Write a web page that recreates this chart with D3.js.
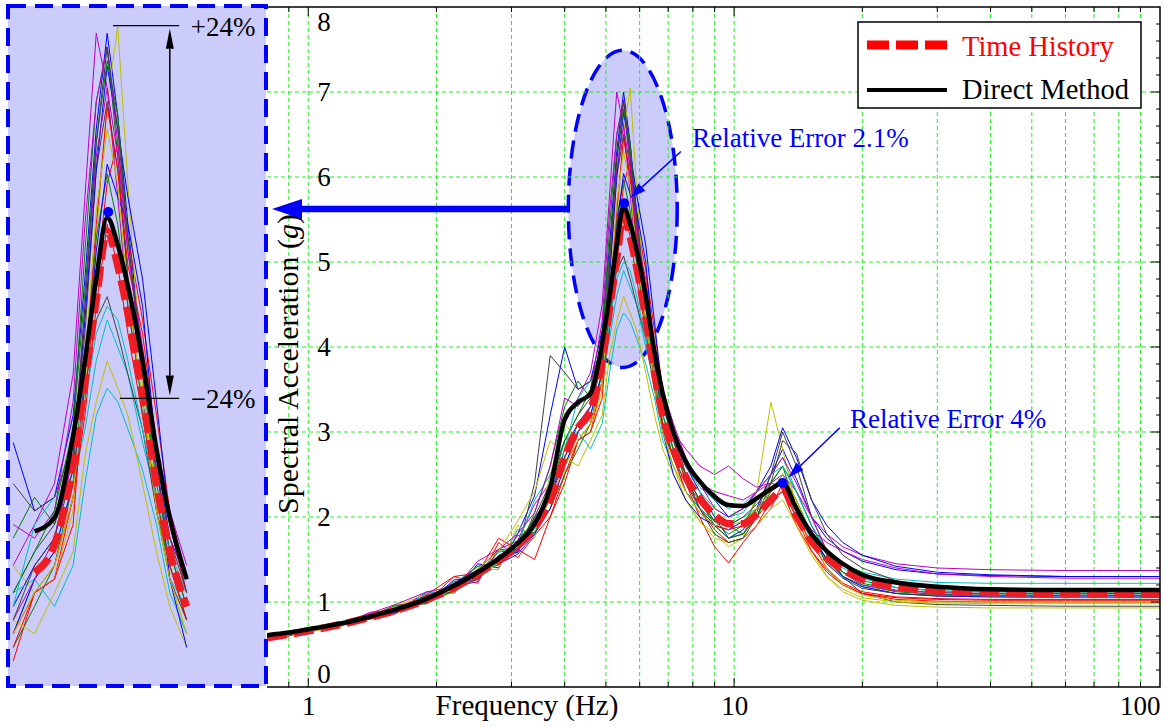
<!DOCTYPE html>
<html>
<head>
<meta charset="utf-8">
<script src="https://cdn.jsdelivr.net/npm/d3@7"></script>
<style>
  body { margin: 0; background: #fff; }
  text { font-family: "Liberation Serif", "Times New Roman", serif; }
</style>
</head>
<body>
<svg id="chart" width="1171" height="727"></svg>
<script>
// frequency grid (Hz) shared by every curve
const freqs = [0.8, 0.9, 1.0, 1.2, 1.4, 1.6, 1.9, 2.2, 2.5, 2.8, 3.1, 3.4,
  3.7, 4.0, 4.3, 4.6, 4.9, 5.1, 5.3, 5.5, 5.7, 5.9,
  6.2, 6.5, 6.8, 7.2, 7.7, 8.3, 9.0, 9.7, 10.5, 11.3,
  12.2, 13.0, 14.0, 15.2, 16.5, 18, 20, 24, 30, 40, 60, 100];

// Direct Method (black)
const directMethod = [0.61, 0.64, 0.68, 0.75, 0.83, 0.91, 1.04, 1.19, 1.35, 1.51, 1.69, 1.92,
  2.35, 3.15, 3.35, 3.45, 4.05, 4.6, 5.2, 5.65, 5.45, 5.15,
  4.6, 3.95, 3.45, 3.0, 2.65, 2.42, 2.24, 2.14, 2.13, 2.22,
  2.33, 2.40, 2.1, 1.8, 1.6, 1.45, 1.32, 1.23, 1.18, 1.15, 1.14, 1.14];

// Time History mean (red dashed)
const timeHistory = [0.58, 0.62, 0.66, 0.74, 0.82, 0.90, 1.03, 1.17, 1.33, 1.49, 1.66, 1.88,
  2.2, 2.7, 3.05, 3.25, 3.85, 4.45, 5.05, 5.55, 5.3, 4.95,
  4.35, 3.7, 3.2, 2.8, 2.47, 2.22, 2.02, 1.92, 1.92, 2.03,
  2.2, 2.32, 2.02, 1.72, 1.52, 1.38, 1.27, 1.18, 1.13, 1.11, 1.10, 1.09];

// individual records (thin lines), colours cycle b g r c m y k
const recordColors = ["#0000ff", "#008000", "#ff0000", "#00bfbf", "#bf00bf", "#bfbf00", "#404040"];
const records = [
  [0.59,0.61,0.68,0.73,0.85,0.88,1.12,1.10,1.45,1.40,1.80,2.25, 3.2,4.0,3.5,3.6,4.2, 5.2,6.3,7.0,6.4,5.6, 4.6,3.9,3.3,3.0,2.6,2.3, 2.0,1.75,1.85,2.1, 2.5,2.8,2.45,2.0, 1.75,1.6,1.48,1.38,1.33,1.31,1.30,1.30],
  [0.57,0.63,0.65,0.76,0.80,0.95,0.98,1.24,1.26,1.60,1.58,2.05, 2.6,3.3,3.6,3.4,4.1, 5.4,6.5,6.9,6.1,5.2, 4.2,3.6,3.1,2.7,2.4,2.2, 1.95,1.8,1.9,2.2, 2.4,2.6,2.1,1.75, 1.5,1.35,1.25,1.17,1.13,1.12,1.12,1.12],
  [0.58,0.60,0.67,0.72,0.86,0.87,1.09,1.30,1.22,1.70,1.52,1.78, 2.0,2.4,2.9,3.0,3.6, 4.3,5.2,5.9,6.2,5.5, 4.9,4.2,3.5,3.0,2.5,2.1, 1.85,1.7,1.75,1.9, 2.1,2.4,2.0,1.6, 1.38,1.2,1.1,1.03,1.01,1.0,1.0,1.0],
  [0.59,0.62,0.66,0.77,0.81,0.95,1.00,1.22,1.42,1.43,1.85,1.80, 2.3,2.6,3.0,3.2,3.7, 4.1,4.6,4.9,4.7,4.5, 4.0,3.6,3.0,2.8,2.5,2.3, 2.1,2.0,2.05,2.3, 2.5,2.7,2.3,1.9, 1.6,1.45,1.35,1.27,1.23,1.22,1.22,1.22],
  [0.58,0.63,0.66,0.74,0.88,0.90,1.08,1.15,1.48,1.62,1.72,2.15, 2.4,3.1,3.4,3.7,4.5, 5.8,7.0,6.6,5.8,5.0, 4.3,3.8,3.3,3.0,2.8,2.6, 2.5,2.6,2.45,2.35, 2.4,2.5,2.3,2.0, 1.8,1.65,1.55,1.45,1.4,1.38,1.37,1.37],
  [0.57,0.61,0.64,0.73,0.80,0.95,1.10,1.10,1.40,1.38,1.90,1.75, 2.5,3.1,2.9,3.0,3.5, 4.4,5.5,6.5,7.05,5.9, 4.4,3.6,3.0,2.6,2.2,1.95, 1.8,1.65,1.75,2.3, 3.35,2.8,2.1,1.6, 1.3,1.12,1.02,0.96,0.94,0.93,0.93,0.93],
  [0.58,0.62,0.67,0.76,0.80,0.86,1.08,1.12,1.38,1.62,1.60,2.4, 3.9,3.7,3.5,3.6,4.0, 4.8,6.0,6.5,6.0,5.2, 4.5,3.8,3.2,2.8,2.45,2.1, 1.9,1.75,1.8,2.05, 2.5,3.0,2.6,2.0, 1.6,1.3,1.1,1.0,0.97,0.96,0.95,0.95],
  [0.58,0.61,0.66,0.76,0.81,0.93,0.99,1.26,1.28,1.55,1.58,2.0, 2.2,2.8,3.1,3.3,3.9, 4.9,6.0,6.76,6.3,5.8, 5.2,4.3,3.4,2.9,2.6,2.4, 2.2,2.0,2.1,2.3, 2.6,3.05,2.7,2.2, 1.9,1.7,1.55,1.42,1.35,1.32,1.30,1.30],
  [0.59,0.62,0.65,0.73,0.84,0.96,1.00,1.20,1.42,1.46,1.78,1.82, 2.1,2.5,2.8,3.1,3.7, 4.6,5.5,5.97,5.6,5.0, 4.3,3.5,3.1,2.7,2.3,2.1, 1.95,1.9,1.8,2.0, 2.3,2.5,2.2,1.8, 1.5,1.3,1.2,1.12,1.09,1.08,1.08,1.08],
  [0.57,0.63,0.66,0.74,0.84,0.87,1.00,1.30,1.34,1.75,1.62,1.50, 2.0,2.5,2.9,3.0,3.4, 4.5,5.6,6.46,6.0,5.3, 4.8,4.0,3.4,2.9,2.4,2.0, 1.65,1.46,1.7,1.9, 2.2,2.3,1.9,1.6, 1.35,1.2,1.1,1.05,1.03,1.02,1.02,1.02],
  [0.58,0.62,0.68,0.75,0.84,0.88,1.10,1.14,1.36,1.58,1.68,2.2, 2.5,2.9,3.0,2.8,3.1, 3.7,4.2,4.4,4.3,4.1, 3.8,3.4,2.9,2.6,2.3,2.1, 1.95,1.9,2.0,2.1, 2.2,2.3,2.0,1.75, 1.45,1.3,1.18,1.1,1.07,1.06,1.05,1.05],
  [0.58,0.60,0.67,0.74,0.87,0.97,1.12,1.18,1.24,1.62,1.80,2.05, 2.6,3.4,3.3,3.5,4.3, 5.6,6.5,6.9,6.2,5.4, 4.7,4.0,3.5,3.1,2.7,2.4, 2.3,2.25,2.2,2.3, 2.4,2.35,2.1,1.85, 1.7,1.6,1.5,1.4,1.33,1.3,1.28,1.28],
  [0.57,0.62,0.65,0.72,0.80,0.93,1.00,1.12,1.39,1.60,1.95,2.3, 2.9,2.7,2.6,2.9,3.2, 3.9,4.3,4.6,4.4,4.2, 3.7,3.2,2.8,2.5,2.2,1.95, 1.75,1.7,1.75,1.9, 2.1,2.2,1.9,1.55, 1.3,1.15,1.05,1.0,0.99,0.98,0.98,0.98],
  [0.59,0.61,0.66,0.75,0.83,0.89,1.07,1.15,1.27,1.55,1.63,2.0, 2.4,2.9,3.2,3.4,3.8, 4.4,4.9,5.07,4.8,4.5, 4.1,3.5,3.0,2.7,2.4,2.1, 1.8,1.7,1.75,2.0, 2.4,2.9,2.75,2.2, 1.8,1.55,1.4,1.25,1.18,1.16,1.15,1.15],
  [0.58,0.62,0.67,0.73,0.84,0.88,1.05,1.22,1.38,1.45,1.56,1.80, 2.1,2.6,3.0,3.2,3.7, 4.5,5.4,6.04,5.8,5.6, 5.0,3.9,3.0,2.5,2.2,2.0, 1.9,1.85,1.95,2.1, 2.3,2.4,2.1,1.8, 1.5,1.3,1.18,1.1,1.07,1.06,1.06,1.06],
  [0.58,0.63,0.66,0.75,0.82,0.92,1.00,1.13,1.36,1.44,1.72,1.96, 2.3,2.9,3.2,3.5,4.1, 5.1,6.2,6.8,6.4,5.5, 4.5,3.7,3.2,2.8,2.5,2.2, 1.9,1.75,1.8,2.0, 2.4,2.6,2.3,1.9, 1.55,1.35,1.22,1.14,1.11,1.10,1.10,1.10],
  [0.58,0.61,0.66,0.73,0.80,0.93,1.06,1.21,1.30,1.52,1.61,1.90, 2.2,2.6,2.9,3.1,3.6, 4.2,5.0,5.6,5.3,4.8, 4.2,3.6,3.1,2.7,2.3,2.05, 1.9,1.85,1.9,2.0, 2.2,2.3,2.0,1.7, 1.4,1.22,1.12,1.06,1.04,1.03,1.03,1.03],
  [0.58,0.62,0.67,0.74,0.83,0.89,1.05,1.16,1.35,1.47,1.72,1.86, 2.3,2.8,3.4,3.6,3.7, 4.3,4.8,5.0,4.9,4.6, 4.1,3.6,3.2,2.9,2.6,2.35, 2.2,2.1,2.15,2.3, 2.5,2.6,2.3,1.9, 1.6,1.4,1.28,1.17,1.13,1.12,1.12,1.12],
  [0.58,0.62,0.65,0.75,0.84,0.90,1.01,1.17,1.29,1.53,1.60,1.92, 2.2,2.7,3.0,3.3,3.9, 5.0,6.1,6.6,6.1,5.4, 4.6,3.9,3.4,3.0,2.7,2.4, 2.1,2.0,2.1,2.3, 2.5,2.7,2.4,2.0, 1.6,1.35,1.2,1.13,1.11,1.10,1.10,1.10],
  [0.58,0.61,0.66,0.74,0.81,0.91,1.06,1.14,1.36,1.45,1.70,1.85, 2.2,2.6,2.9,3.1,3.6, 4.6,5.7,6.3,5.9,5.1, 4.3,3.5,3.0,2.6,2.3,2.05, 1.9,1.9,1.95,2.1, 2.3,2.5,2.2,1.75, 1.4,1.2,1.08,1.02,1.0,1.0,1.0,1.0],
  [0.58,0.62,0.66,0.74,0.83,0.89,1.04,1.19,1.31,1.51,1.63,1.93, 2.3,2.7,3.1,3.3,3.8, 5.0,6.2,6.9,6.3,5.5, 4.6,3.8,3.3,2.9,2.5,2.2, 1.95,1.9,2.0,2.15, 2.35,2.4,2.15,1.8, 1.45,1.28,1.16,1.1,1.08,1.08,1.08,1.08]
];

const xTickLabels = [1, 10, 100];
const yTicks = [0, 1, 2, 3, 4, 5, 6, 7, 8];

// marked peaks of the Direct Method curve and their notes
const peakNotes = [
  { f: 5.52, v: 5.69, label: "Relative Error 2.1%", textF: 7.97, textV: 6.35, fromF: 7.5, fromV: 6.3 },
  { f: 13.0, v: 2.40, label: "Relative Error 4%", textF: 18.7, textV: 3.05, fromF: 17.7, fromV: 3.05 }
];
// zoom window shown in the inset (ellipse bounds)
const focus = { f0: 4.08, f1: 7.35, v0: 3.76, v1: 7.49 };
const band = 0.24; // +/- 24 %

const W = 1171, H = 727;
const plot = { left: 267, right: 1160, top: 7, bottom: 687 };
const box = { left: 8, right: 266, top: 6, bottom: 686 };

const svg = d3.select("#chart");
svg.append("rect").attr("width", W).attr("height", H).attr("fill", "#fff");

const x = d3.scaleLog().domain([0.8, 100]).range([plot.left, plot.right]);
const y = d3.scaleLinear().domain([0, 8]).range([plot.bottom, plot.top]);

const defs = svg.append("defs");
defs.append("clipPath").attr("id", "plotClip").append("rect")
  .attr("x", plot.left).attr("y", plot.top)
  .attr("width", plot.right - plot.left).attr("height", plot.bottom - plot.top);
defs.append("clipPath").attr("id", "insetClip").append("rect")
  .attr("x", box.left).attr("y", box.top)
  .attr("width", box.right - box.left).attr("height", box.bottom - box.top);

const lavender = "#ccccfa";
const blue = "#0000ff";

// ellipse around the main peak
const ex0 = x(focus.f0), ex1 = x(focus.f1), ey0 = y(focus.v1), ey1 = y(focus.v0);
svg.append("ellipse")
  .attr("cx", (ex0 + ex1) / 2).attr("cy", (ey0 + ey1) / 2)
  .attr("rx", (ex1 - ex0) / 2).attr("ry", (ey1 - ey0) / 2)
  .attr("fill", lavender).attr("stroke", blue)
  .attr("stroke-width", 3.5).attr("stroke-dasharray", "18,9");

// grid
const gridF = [];
[0.1, 1, 10].forEach(d => { for (let k = 1; k <= 9; k++) gridF.push(d * k); });
gridF.push(100);
const grid = svg.append("g").attr("stroke", "#22ee22").attr("stroke-width", 1).attr("stroke-dasharray", "4,3");
grid.selectAll("line.v").data(gridF.filter(f => f > 0.85 && f < 99)).join("line")
  .attr("x1", d => x(d)).attr("x2", d => x(d)).attr("y1", plot.top).attr("y2", plot.bottom);
grid.selectAll("line.h").data(yTicks.filter(v => v > 0 && v < 8)).join("line")
  .attr("x1", plot.left).attr("x2", plot.right).attr("y1", d => y(d)).attr("y2", d => y(d));

// curves
function drawCurves(g, xs, ys, recIdx, meanIdx) {
  const pts = (vals, idx) => idx.map(i => [xs(freqs[i]), ys(vals[i])]);
  const lin = d3.line();
  const smooth = d3.line().curve(d3.curveMonotoneX);
  g.selectAll("path.rec").data(records).join("path")
    .attr("class", "rec")
    .attr("d", d => lin(pts(d, recIdx)))
    .attr("fill", "none")
    .attr("stroke", (d, i) => recordColors[i % recordColors.length])
    .attr("stroke-width", 1);
  g.append("path").attr("d", smooth(pts(timeHistory, meanIdx)))
    .attr("fill", "none").attr("stroke", "#ee1c24").attr("stroke-width", 7.5)
    .attr("stroke-dasharray", "20,7");
  g.append("path").attr("d", smooth(pts(directMethod, meanIdx)))
    .attr("fill", "none").attr("stroke", "#000").attr("stroke-width", 4.5);
}
const main = svg.append("g").attr("clip-path", "url(#plotClip)");
drawCurves(main, x, y, d3.range(freqs.length), d3.range(freqs.length));

// arrows
function arrow(g, x1, y1, x2, y2, color, width, head, half) {
  const a = Math.atan2(y2 - y1, x2 - x1);
  const bx = x2 - head * Math.cos(a), by = y2 - head * Math.sin(a);
  g.append("line").attr("x1", x1).attr("y1", y1).attr("x2", bx).attr("y2", by)
    .attr("stroke", color).attr("stroke-width", width);
  const px = -Math.sin(a) * half, py = Math.cos(a) * half;
  g.append("path").attr("d", `M${x2},${y2}L${bx + px},${by + py}L${bx - px},${by - py}Z`).attr("fill", color);
}

// peak notes
const notes = svg.append("g");
peakNotes.forEach(p => {
  const px = x(p.f), py = y(p.v);
  const sx = x(p.fromF), sy = y(p.fromV);
  const a = Math.atan2(py - sy, px - sx);
  arrow(notes, sx, sy, px - 8 * Math.cos(a), py - 8 * Math.sin(a), blue, 1.5, 16, 5);
  notes.append("circle").attr("cx", px).attr("cy", py).attr("r", 5).attr("fill", blue);
  notes.append("text").attr("x", x(p.textF)).attr("y", y(p.textV))
    .attr("fill", blue).attr("font-size", 27).text(p.label);
});

// frame and ticks
const frame = svg.append("g").attr("stroke", "#000");
frame.append("path")
  .attr("d", `M${plot.left},${plot.top}H${plot.right}V${plot.bottom}H${plot.left}`)
  .attr("fill", "none").attr("stroke-width", 1.5);
const tickF = gridF.filter(f => f > 0.85 && f < 99);
tickF.forEach(f => {
  const len = xTickLabels.includes(f) ? 9 : 5;
  frame.append("line").attr("x1", x(f)).attr("x2", x(f)).attr("y1", plot.bottom).attr("y2", plot.bottom - len);
  frame.append("line").attr("x1", x(f)).attr("x2", x(f)).attr("y1", plot.top).attr("y2", plot.top + len);
});
d3.range(1, 40).forEach(k => {
  const v = k * 0.2, len = k % 5 === 0 ? 9 : 4;
  frame.append("line").attr("x1", plot.right).attr("x2", plot.right - len).attr("y1", y(v)).attr("y2", y(v));
});

// axes labels
const xAxis = d3.axisBottom(x).tickValues(xTickLabels).tickSize(0).tickPadding(9).tickFormat(d3.format("d"));
const gx = svg.append("g").attr("transform", `translate(0,${plot.bottom})`).call(xAxis);
gx.select(".domain").remove();
gx.attr("font-family", null).attr("font-size", 27);
gx.selectAll("text").attr("fill", "#000")
  .attr("text-anchor", d => d === 100 ? "end" : "middle");

const yAxis = d3.axisRight(y).tickValues(yTicks).tickSize(0).tickPadding(57).tickFormat(d3.format("d"));
const gy = svg.append("g").attr("transform", `translate(${plot.left},0)`).call(yAxis);
gy.select(".domain").remove();
gy.attr("font-family", null).attr("font-size", 27);
gy.selectAll("text").attr("fill", "#000").attr("text-anchor", "middle")
  .attr("y", d => d === 8 ? 15 : d === 0 ? -13 : 0);

svg.append("text").attr("x", 527).attr("y", 715).attr("text-anchor", "middle")
  .attr("font-size", 29).text("Frequency (Hz)");
const yl = svg.append("text").attr("transform", "translate(298,364) rotate(-90)")
  .attr("text-anchor", "middle").attr("font-size", 30);
yl.append("tspan").text("Spectral Acceleration (");
yl.append("tspan").attr("font-style", "italic").text("g");
yl.append("tspan").text(")");

// legend
const lg = svg.append("g");
lg.append("rect").attr("x", 858).attr("y", 22).attr("width", 283).attr("height", 86)
  .attr("fill", "#fff").attr("stroke", "#000").attr("stroke-width", 1.5);
lg.append("line").attr("x1", 867).attr("x2", 947).attr("y1", 45).attr("y2", 45)
  .attr("stroke", "#ff0000").attr("stroke-width", 9).attr("stroke-dasharray", "22,7");
lg.append("line").attr("x1", 867).attr("x2", 947).attr("y1", 90).attr("y2", 90)
  .attr("stroke", "#000").attr("stroke-width", 4);
lg.append("text").attr("x", 962).attr("y", 56).attr("font-size", 28.5).attr("fill", "#ff0000").text("Time History");
lg.append("text").attr("x", 962).attr("y", 99).attr("font-size", 28.5).attr("fill", "#000").text("Direct Method");

// inset: magnified view of the main peak
const xi = d3.scaleLog().domain([3.93, 9.42]).range([box.left, box.right]);
const yi = d3.scaleLinear().domain([2.217, 7.2]).range([box.bottom, box.top]);
svg.append("rect").attr("x", box.left).attr("y", box.top)
  .attr("width", box.right - box.left).attr("height", box.bottom - box.top)
  .attr("fill", lavender);
const ins = svg.append("g").attr("clip-path", "url(#insetClip)");
drawCurves(ins, xi, yi, d3.range(13, 26), d3.range(14, 26));
const pk = peakNotes[0];
ins.append("circle").attr("cx", xi(pk.f)).attr("cy", yi(pk.v)).attr("r", 5).attr("fill", blue);

// +/- 24 % band
const hiV = pk.v * (1 + band), loV = pk.v * (1 - band);
const ax = xi(6.8);
const bandG = svg.append("g");
bandG.append("line").attr("x1", xi(5.61)).attr("x2", xi(7.02)).attr("y1", yi(hiV)).attr("y2", yi(hiV))
  .attr("stroke", "#000").attr("stroke-width", 1.2);
bandG.append("line").attr("x1", xi(5.74)).attr("x2", xi(7.02)).attr("y1", yi(loV)).attr("y2", yi(loV))
  .attr("stroke", "#000").attr("stroke-width", 1.2);
const mid = (yi(hiV) + yi(loV)) / 2;
arrow(bandG, ax, mid, ax, yi(hiV) + 3, "#000", 1.5, 20, 4);
arrow(bandG, ax, mid, ax, yi(loV) - 3, "#000", 1.5, 20, 4);
bandG.append("text").attr("x", xi(7.3)).attr("y", yi(hiV) + 10).attr("font-size", 27).text("+24%");
bandG.append("text").attr("x", xi(7.3)).attr("y", yi(loV) + 10).attr("font-size", 27).text("\u221224%");

svg.append("rect").attr("x", box.left).attr("y", box.top)
  .attr("width", box.right - box.left).attr("height", box.bottom - box.top)
  .attr("fill", "none").attr("stroke", blue).attr("stroke-width", 4).attr("stroke-dasharray", "18,9");

// big arrow from the ellipse to the inset
const arrowY = y((focus.v0 + focus.v1) / 2);
arrow(svg.append("g"), ex0, arrowY, box.right + 6, arrowY, blue, 6.5, 30, 10);
</script>
</body>
</html>
